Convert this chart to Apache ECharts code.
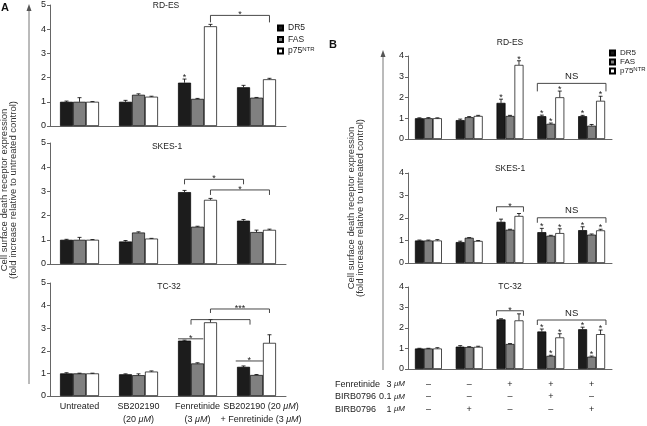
<!DOCTYPE html>
<html>
<head>
<meta charset="utf-8">
<script src="https://cdn.jsdelivr.net/npm/echarts@6/dist/echarts.min.js"></script>
<style>
html, body { margin: 0; padding: 0; background: #fff; }
#chart { width: 647px; height: 426px; }
</style>
</head>
<body>
<div id="chart"></div>
<script>
// categories / labels
const catsA = ['Untreated', 'SB202190\n(20 μM)', 'Fenretinide\n(3 μM)', 'SB202190 (20 μM)\n+ Fenretinide (3 μM)'];
const catsB = ['–\n–\n–', '–\n–\n+', '+\n–\n–', '+\n+\n–', '+\n–\n+'];
const seriesNames = ['DR5', 'FAS', 'p75NTR'];
const rowNamesB = ['Fenretinide', 'BIRB0796', 'BIRB0796'];
const rowDosesB = ['3 μM', '0.1 μM', '1 μM'];

// rows = DR5, FAS, p75NTR ; columns = categories
// panel A
const aRdesMean = [[1.00, 1.00, 1.79, 1.60], [1.00, 1.29, 1.12, 1.17], [1.00, 1.21, 4.12, 1.93]];
const aRdesErr  = [[0.03, 0.06, 0.15, 0.08], [0.17, 0.04, 0.02, 0.01], [0.01, 0.02, 0.08, 0.04]];
const aRdesStar = [[0, 0, 1, 0], [0, 0, 0, 0], [0, 0, 0, 0]];
const aSkesMean = [[1.00, 0.93, 2.97, 1.79], [1.00, 1.30, 1.54, 1.32], [1.00, 1.05, 2.65, 1.41]];
const aSkesErr  = [[0.02, 0.04, 0.07, 0.05], [0.10, 0.03, 0.02, 0.08], [0.01, 0.01, 0.06, 0.03]];
const aSkesStar = [[0, 0, 0, 0], [0, 0, 0, 0], [0, 0, 0, 0]];
const aTc32Mean = [[1.00, 0.96, 2.45, 1.29], [1.00, 0.92, 1.44, 0.93], [1.00, 1.08, 3.26, 2.35]];
const aTc32Err  = [[0.03, 0.02, 0.02, 0.04], [0.01, 0.06, 0.03, 0.02], [0.01, 0.03, 0.12, 0.36]];
const aTc32Star = [[0, 0, 0, 0], [0, 0, 0, 0], [0, 0, 0, 0]];
// panel B
const bRdesMean = [[1.00, 0.91, 1.74, 1.10, 1.10], [1.00, 1.05, 1.11, 0.73, 0.64], [1.00, 1.11, 3.57, 2.01, 1.84]];
const bRdesErr  = [[0.02, 0.05, 0.18, 0.05, 0.04], [0.03, 0.03, 0.03, 0.04, 0.06], [0.02, 0.03, 0.20, 0.30, 0.22]];
const bRdesStar = [[0, 0, 1, 1, 1], [0, 0, 0, 1, 0], [0, 0, 1, 1, 1]];
const bSkesMean = [[1.00, 0.93, 1.83, 1.37, 1.46], [1.00, 1.12, 1.48, 1.21, 1.26], [1.00, 0.98, 2.09, 1.33, 1.45]];
const bSkesErr  = [[0.02, 0.04, 0.12, 0.17, 0.15], [0.02, 0.01, 0.02, 0.02, 0.03], [0.04, 0.02, 0.11, 0.19, 0.05]];
const bSkesStar = [[0, 0, 0, 1, 1], [0, 0, 0, 0, 0], [0, 0, 0, 1, 1]];
const bTc32Mean = [[1.00, 1.09, 2.42, 1.83, 1.94], [1.00, 1.07, 1.22, 0.64, 0.60], [1.00, 1.08, 2.37, 1.54, 1.70]];
const bTc32Err  = [[0.01, 0.05, 0.03, 0.12, 0.10], [0.01, 0.02, 0.02, 0.03, 0.03], [0.04, 0.03, 0.32, 0.18, 0.20]];
const bTc32Star = [[0, 0, 0, 1, 1], [0, 0, 0, 1, 1], [0, 0, 0, 1, 1]];

// brackets: [cat1, barOffset1, cat2, barOffset2, y value, tick px, label]
const aRdesBr = [[2, 1, 3, 1, 4.57, 7, '*']];
const aSkesBr = [[2, -1, 3, -1, 3.50, 5, '*'], [2, 1, 3, 1, 3.06, 5, '*']];
const aTc32Br = [[2, 1, 3, 1, 3.85, 4, '***'], [2, -0.5, 3, -0.5, 3.38, 5, ''],
                 [2, -1.5, 2, 0.45, 2.53, 0, '*'], [3, -1.6, 3, 0.5, 1.55, 0, '*']];
const bRdesBr = [[3, -1.5, 4, 1.6, 2.68, 8, 'NS']];
const bSkesBr = [[2, -1.5, 2, 1.5, 2.50, 5, '*'], [3, -1.5, 4, 1.6, 2.01, 5, 'NS']];
const bTc32Br = [[2, -1.5, 2, 1.5, 2.84, 5, '*'], [3, -1.5, 4, 1.6, 2.39, 5, 'NS']];

const FONT = "'Liberation Sans', Arial, sans-serif";
const TXT = '#222';
const AXIS = '#666';
const barColors = ['#1c1c1c', '#808080', '#ffffff'];
const BARW = 0.22;

const panels = [
    { mean: aRdesMean, err: aRdesErr, star: aRdesStar, br: aRdesBr, cats: catsA, max: 5, title: 'RD-ES', tx: 166, ty: 6, grid: { left: 50, top: 5, width: 236, height: 121 }, xlab: false },
    { mean: aSkesMean, err: aSkesErr, star: aSkesStar, br: aSkesBr, cats: catsA, max: 5, title: 'SKES-1', tx: 167, ty: 147, grid: { left: 50, top: 143, width: 236, height: 121 }, xlab: false },
    { mean: aTc32Mean, err: aTc32Err, star: aTc32Star, br: aTc32Br, cats: catsA, max: 5, title: 'TC-32', tx: 169, ty: 287, grid: { left: 50, top: 283, width: 236, height: 114 }, xlab: 'A' },
    { mean: bRdesMean, err: bRdesErr, star: bRdesStar, br: bRdesBr, cats: catsB, max: 4, title: 'RD-ES', tx: 510, ty: 43, grid: { left: 408, top: 56, width: 204, height: 83 }, xlab: false },
    { mean: bSkesMean, err: bSkesErr, star: bSkesStar, br: bSkesBr, cats: catsB, max: 4, title: 'SKES-1', tx: 510, ty: 169, grid: { left: 408, top: 173, width: 204, height: 90 }, xlab: false },
    { mean: bTc32Mean, err: bTc32Err, star: bTc32Star, br: bTc32Br, cats: catsB, max: 4, title: 'TC-32', tx: 510, ty: 287, grid: { left: 408, top: 287, width: 204, height: 82 }, xlab: 'B' }
];

// error bars + stars above bars
function errorRender(params, api) {
    const cat = api.value(0), k = api.value(1), m = api.value(2), e = api.value(3), s = api.value(4);
    const bw = api.size([1, 0])[0] * BARW;
    const base = api.coord([cat, m]);
    const x = base[0] + (k - 1) * bw;
    const yTop = api.coord([cat, m + e])[1];
    const ch = [];
    if (e > 0) {
        ch.push({ type: 'line', shape: { x1: x, y1: base[1], x2: x, y2: yTop }, style: { stroke: '#000', lineWidth: 0.8 } });
        ch.push({ type: 'line', shape: { x1: x - 2, y1: yTop, x2: x + 2, y2: yTop }, style: { stroke: '#000', lineWidth: 0.8 } });
    }
    if (s) {
        ch.push({ type: 'text', x: x, y: yTop + 3, style: { text: '*', align: 'center', verticalAlign: 'bottom', fontSize: 9, fontFamily: FONT, fill: TXT } });
    }
    return { type: 'group', children: ch };
}

// significance brackets
function bracketRender(rows) {
    return function (params, api) {
        const r = rows[params.dataIndex];
        const bw = api.size([1, 0])[0] * BARW;
        const p1 = api.coord([r[0], r[4]]);
        const p2 = api.coord([r[2], r[4]]);
        const x1 = p1[0] + r[1] * bw, x2 = p2[0] + r[3] * bw, y = p1[1];
        const ch = [{
            type: 'polyline',
            shape: { points: [[x1, y + r[5]], [x1, y], [x2, y], [x2, y + r[5]]] },
            style: { stroke: '#333', lineWidth: 0.9, fill: null }
        }];
        if (r[6]) {
            const ns = r[6] === 'NS';
            ch.push({ type: 'text', x: (x1 + x2) / 2, y: ns ? y - 2 : y + 4,
                style: { text: r[6], align: 'center', verticalAlign: 'bottom', fontSize: ns ? 9.5 : 9, fontFamily: FONT, fill: TXT } });
        }
        return { type: 'group', children: ch };
    };
}

const grids = [], xAxes = [], yAxes = [], series = [], graphics = [];
panels.forEach(function (p, gi) {
    grids.push(p.grid);
    let cats = p.cats;
    if (p.xlab === 'A') {
        // last label sits a little to the right in the original
        cats = p.cats.map(function (c, i) {
            return i === 3 ? { value: c, textStyle: { padding: [0, 0, 0, 9] } } : c;
        });
    }
    const xAxis = {
        type: 'category', gridIndex: gi, data: cats,
        axisLine: { lineStyle: { color: AXIS, width: 1 } },
        axisTick: { length: 3, lineStyle: { color: AXIS } },
        axisLabel: { show: !!p.xlab, interval: 0, color: TXT, fontFamily: FONT, fontSize: 9 }
    };
    if (p.xlab === 'A') {
        xAxis.axisLabel.lineHeight = 13;
        xAxis.axisLabel.margin = 4;
        xAxis.axisLabel.formatter = function (v) { return v.replace(/μM/g, '{i|μM}'); };
        xAxis.axisLabel.rich = { i: { fontStyle: 'italic', fontSize: 9, lineHeight: 13, fontFamily: FONT, color: TXT } };
    } else if (p.xlab === 'B') {
        xAxis.axisLabel.lineHeight = 12.5;
        xAxis.axisLabel.margin = 9;
    }
    xAxes.push(xAxis);
    yAxes.push({
        type: 'value', gridIndex: gi, min: 0, max: p.max, interval: 1,
        splitLine: { show: false },
        axisLine: { show: true, lineStyle: { color: AXIS, width: 1 } },
        axisTick: { show: true, length: 3, lineStyle: { color: AXIS } },
        axisLabel: { color: TXT, fontFamily: FONT, fontSize: 9, margin: 4 }
    });
    const errData = [];
    seriesNames.forEach(function (name, k) {
        series.push({
            type: 'bar', name: name, xAxisIndex: gi, yAxisIndex: gi,
            data: p.mean[k], barWidth: (BARW * 100) + '%', barGap: '0%',
            itemStyle: { color: barColors[k], borderColor: '#000', borderWidth: 0.7 },
            silent: true
        });
        p.mean[k].forEach(function (m, c) {
            errData.push([c, k, m, p.err[k][c], p.star[k][c]]);
        });
    });
    series.push({
        type: 'custom', xAxisIndex: gi, yAxisIndex: gi, z: 5, silent: true,
        encode: { x: 0, y: 2 }, data: errData, renderItem: errorRender
    });
    series.push({
        type: 'custom', xAxisIndex: gi, yAxisIndex: gi, z: 5, silent: true,
        encode: { x: 0, y: 1 }, data: p.br.map(function (r) { return [r[0], r[4]]; }),
        renderItem: bracketRender(p.br)
    });
    graphics.push({ type: 'text', x: p.tx, y: p.ty, style: { text: p.title, align: 'center', verticalAlign: 'middle', fontSize: 8.5, fontFamily: FONT, fill: TXT } });
});

const yTitle = 'Cell surface death receptor expression\n(fold increase relative to untreated control)';
graphics.push(
    { type: 'text', x: 5, y: 8, style: { text: 'A', align: 'center', verticalAlign: 'middle', fontSize: 11, fontWeight: 'bold', fontFamily: FONT, fill: '#111' } },
    { type: 'text', x: 333, y: 45, style: { text: 'B', align: 'center', verticalAlign: 'middle', fontSize: 11, fontWeight: 'bold', fontFamily: FONT, fill: '#111' } },
    { type: 'text', x: 9, y: 190, rotation: Math.PI / 2, style: { text: yTitle, align: 'center', verticalAlign: 'middle', fontSize: 9.5, lineHeight: 9, fontFamily: FONT, fill: '#333' } },
    { type: 'text', x: 356, y: 208, rotation: Math.PI / 2, style: { text: yTitle, align: 'center', verticalAlign: 'middle', fontSize: 9.5, lineHeight: 9.5, fontFamily: FONT, fill: '#333' } },
    { type: 'polyline', shape: { points: [[29, 384], [29, 9]] }, style: { stroke: '#777', lineWidth: 1 } },
    { type: 'polygon', shape: { points: [[26.5, 11], [31.5, 11], [29, 4]] }, style: { fill: '#555' } },
    { type: 'polyline', shape: { points: [[383, 370], [383, 55]] }, style: { stroke: '#777', lineWidth: 1 } },
    { type: 'polygon', shape: { points: [[380.5, 57], [385.5, 57], [383, 50]] }, style: { fill: '#555' } }
);
rowNamesB.forEach(function (n, i) {
    const y = 369 + 9 + 12.5 * (i + 0.5);
    graphics.push({ type: 'text', x: 335, y: y, style: { text: n, align: 'left', verticalAlign: 'middle', fontSize: 9, fontFamily: FONT, fill: TXT } });
    graphics.push({ type: 'text', x: 405, y: y, style: {
        text: rowDosesB[i].replace('μM', '{i|μM}'), align: 'right', verticalAlign: 'middle', fontSize: 9, fontFamily: FONT, fill: TXT,
        rich: { i: { fontStyle: 'italic', fontSize: 8, fontFamily: FONT, fill: TXT } } } });
});

const legendBase = {
    data: seriesNames, orient: 'vertical', icon: 'rect', itemWidth: 5, itemHeight: 5, padding: 0,
    selectedMode: false,
    formatter: function (n) { return n === 'p75NTR' ? 'p75{sup|NTR}' : n; },
    textStyle: { fontSize: 8.5, color: TXT, fontFamily: FONT, lineHeight: 10,
        rich: { sup: { fontSize: 6, lineHeight: 10, verticalAlign: 'top', padding: [0, 0, 4, 0], fontFamily: FONT, color: TXT } } }
};

const chart = echarts.init(document.getElementById('chart'), null, { renderer: 'canvas' });
chart.setOption({
    animation: false,
    backgroundColor: '#fff',
    grid: grids,
    xAxis: xAxes,
    yAxis: yAxes,
    legend: [
        Object.assign({}, legendBase, { left: 277, top: 23, itemGap: 1.5 }),
        Object.assign({}, legendBase, { left: 609, top: 48, itemGap: -1, textStyle: Object.assign({}, legendBase.textStyle, { fontSize: 8 }) })
    ],
    series: series,
    graphic: graphics
});
</script>
</body>
</html>
